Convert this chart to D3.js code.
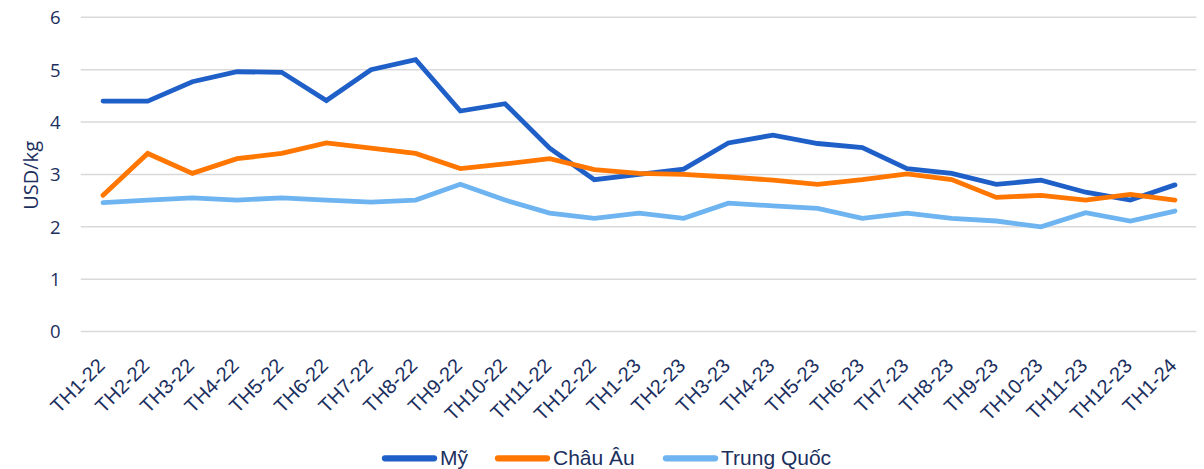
<!DOCTYPE html>
<html><head><meta charset="utf-8">
<script src="https://cdn.jsdelivr.net/npm/d3@7"></script>
<style>body{margin:0;background:#fff}svg{display:block}text{font-family:"Liberation Sans",Arial,sans-serif}</style>
</head><body><svg id="c" width="1204" height="469"></svg>
<script>
const categories = ["TH1-22","TH2-22","TH3-22","TH4-22","TH5-22","TH6-22","TH7-22","TH8-22","TH9-22","TH10-22","TH11-22","TH12-22","TH1-23","TH2-23","TH3-23","TH4-23","TH5-23","TH6-23","TH7-23","TH8-23","TH9-23","TH10-23","TH11-23","TH12-23","TH1-24"];
const my = [4.4,4.4,4.77,4.96,4.95,4.41,5.0,5.19,4.21,4.35,3.5,2.9,3.0,3.1,3.6,3.75,3.59,3.51,3.11,3.02,2.81,2.89,2.66,2.51,2.8];
const chauAu = [2.6,3.4,3.02,3.3,3.4,3.6,3.5,3.4,3.11,3.2,3.3,3.09,3.02,3.0,2.95,2.89,2.81,2.9,3.01,2.9,2.56,2.6,2.51,2.62,2.51];
const trungQuoc = [2.46,2.51,2.55,2.51,2.55,2.51,2.47,2.51,2.81,2.51,2.26,2.16,2.26,2.16,2.45,2.4,2.35,2.16,2.26,2.16,2.11,2.0,2.27,2.11,2.3];
const yTicks = [0,1,2,3,4,5,6];
const seriesNames = ["Mỹ","Châu Âu","Trung Quốc"];
const colors = ["#1F5FC8","#FF7600","#6DB4F0"];
const textColor = "#1B2F5E";

const svg = d3.select("#c");
const pLeft = 80.7, pRight = 1197.3, pTop = 17.3, pBottom = 331.5;
const x = d3.scalePoint().domain(categories).range([pLeft, pRight]).padding(0.5);
const y = d3.scaleLinear().domain([0,6]).range([pBottom, pTop]);

// gridlines
svg.append("g").selectAll("line").data(yTicks).join("line")
  .attr("x1", pLeft).attr("x2", pRight - 1)
  .attr("y1", d => y(d)).attr("y2", d => y(d))
  .attr("stroke", "#D9D9D9").attr("stroke-width", 1.5);

// y axis
const yAxis = svg.append("g").attr("transform", `translate(${pLeft},0)`)
  .call(d3.axisLeft(y).tickValues(yTicks).tickFormat(d3.format("d")).tickSize(0).tickPadding(20));
yAxis.select(".domain").remove();
yAxis.selectAll("text").attr("fill", textColor).style("font-size", "18.5px")
  .style("font-family", "'Open Sans','Liberation Sans',sans-serif").attr("dy", "0.35em");

// y label
svg.append("text").attr("transform", `translate(38,${(pTop+pBottom)/2 + 1}) rotate(-90)`)
  .attr("text-anchor", "middle").attr("fill", textColor).style("font-size", "20px")
  .style("font-family", "'Open Sans','Liberation Sans',sans-serif").text("USD/kg");

// x axis
const xAxis = svg.append("g").attr("transform", `translate(0,${pBottom})`)
  .call(d3.axisBottom(x).tickSize(0).tickPadding(0));
xAxis.select(".domain").remove();
xAxis.selectAll("text").attr("fill", textColor).style("font-size", "20px")
  .attr("text-anchor", "end").attr("dy", null).attr("y", 0)
  .attr("transform", "translate(2.5,35.5) rotate(-45)");

// lines
const data = [my, chauAu, trungQuoc];
const line = d3.line().x((d,i) => x(categories[i])).y(d => y(d));
data.forEach((s, k) => {
  svg.append("path").datum(s).attr("d", line)
    .attr("fill", "none").attr("stroke", colors[k]).attr("stroke-width", 4.8)
    .attr("stroke-linejoin", "miter").attr("stroke-linecap", "round");
});

// legend
const legendPos = [385, 498, 666];
const lg = svg.append("g");
seriesNames.forEach((n, k) => {
  lg.append("line").attr("x1", legendPos[k]).attr("x2", legendPos[k] + 49)
    .attr("y1", 458.3).attr("y2", 458.3).attr("stroke", colors[k]).attr("stroke-width", 6.3).attr("stroke-linecap", "round");
  lg.append("text").attr("x", legendPos[k] + 55).attr("y", 464.5).attr("fill", textColor)
    .style("font-size", "21px").text(n);
});
</script></body></html>
